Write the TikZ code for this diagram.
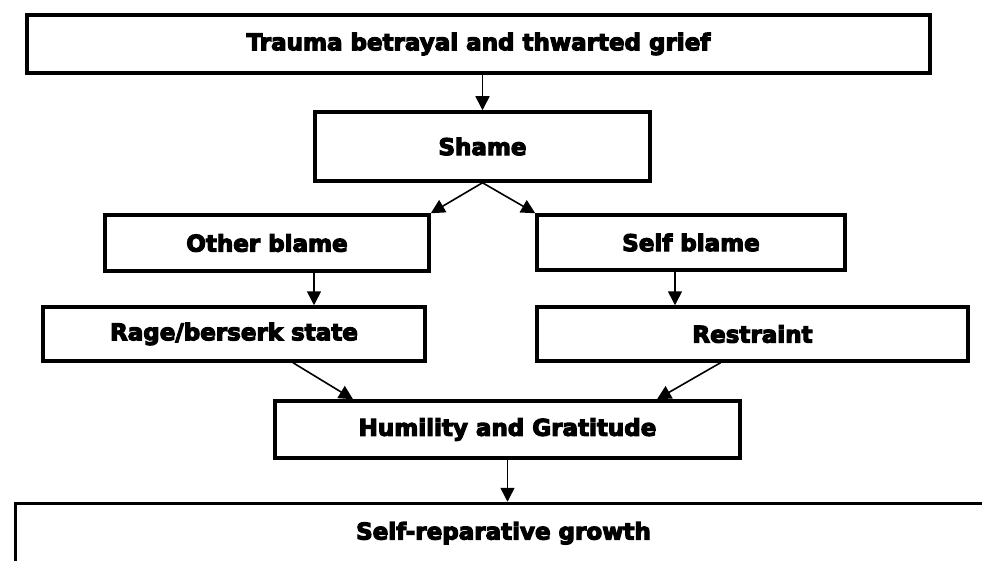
\documentclass[tikz,border=0pt]{standalone}
\usepackage{fontspec}
\newfontfamily\heavy{DejaVu Sans Bold}[FakeBold=5]
\usetikzlibrary{arrows.meta}

\begin{document}
\begin{tikzpicture}[x=1pt, y=-1pt]
  \tikzset{
    box/.style={
      draw, rectangle, line width=3.5pt, inner sep=0pt,
      font=\heavy\fontsize{23}{28}\selectfont
    },
    arr/.style={
      draw, line width=1.6pt, -{Triangle[length=14pt, width=14pt]}
    }
  }
  \useasboundingbox (0,0) rectangle (982,561);

  \node [box, minimum width=903pt, minimum height=58pt] (trauma) at (478.5,44) {Trauma betrayal and thwarted grief};
  \node [box, minimum width=335pt, minimum height=69pt] (shame) at (482.5,146.5) {Shame};
  \node [box, minimum width=324pt, minimum height=56pt] (oblame) at (267,243) {Other blame};
  \node [box, minimum width=308pt, minimum height=55pt] (sblame) at (691,242.5) {Self blame};
  \node [box, minimum width=382pt, minimum height=54pt] (rage) at (234,334) {Rage/berserk state};
  \node [box, minimum width=431pt, minimum height=54pt] (restraint) at (752.5,334) {Restraint};
  \node [box, minimum width=465pt, minimum height=57pt] (humility) at (507.5,429.5) {Humility and Gratitude};
  % runs off the page at the right and bottom
  \node [box, anchor=north west, minimum width=976pt, text height=36pt, text depth=70pt] (growth) at (13.75,501.75) {Self-reparative growth};

  \draw [arr] (trauma.south -| shame.north) -- (shame.north);
  \draw [arr] (shame.south) -- (oblame.north east);
  \draw [arr] (shame.south) -- (sblame.north west);

  \foreach \a/\b/\s in {oblame/rage/47, sblame/restraint/-16} {
    \coordinate (\a-out) at ([xshift=\s pt]\a.south);
    \draw [arr] (\a-out) -- (\a-out |- \b.north);
  }

  \coordinate (rage-out) at ([xshift=59pt]rage.south);
  \coordinate (restraint-out) at ([xshift=-32pt]restraint.south);
  \draw [arr] (rage-out) -- ([xshift=-154.5pt]humility.north);
  \draw [arr] (restraint-out) -- ([xshift=149.5pt]humility.north);
  \draw [arr] (humility.south) -- (humility.south |- growth.north);
\end{tikzpicture}
\end{document}
